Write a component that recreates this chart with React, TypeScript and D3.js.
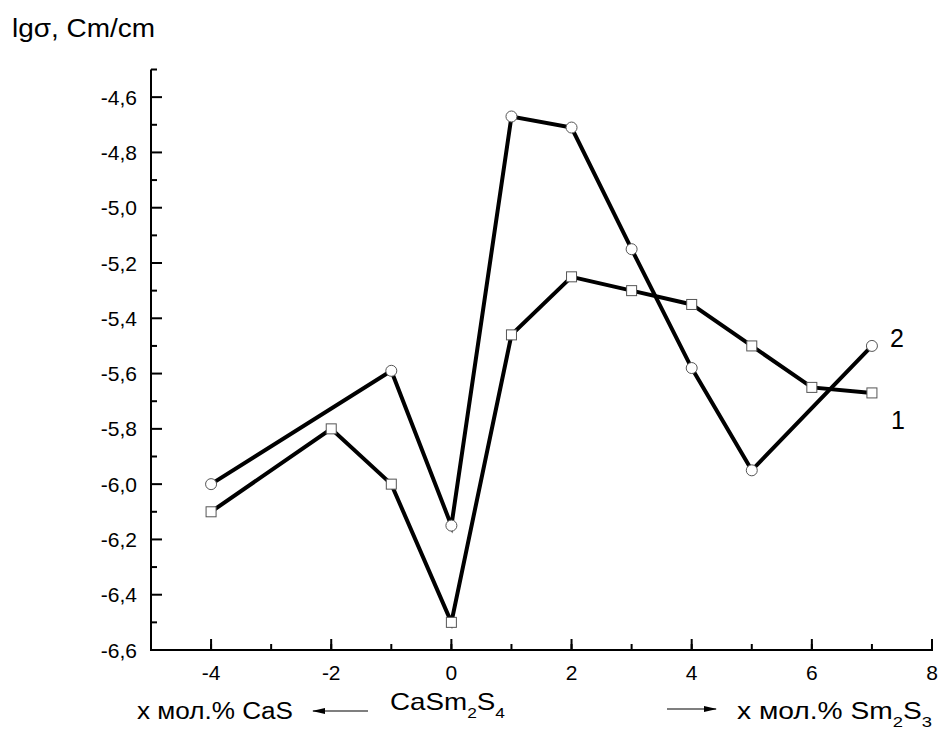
import React from "react";
import * as d3 from "d3";

// curve 2 (circles) and curve 1 (squares)
const circleX = [-4, -1, 0, 1, 2, 3, 4, 5, 7];
const circleY = [-6.0, -5.59, -6.15, -4.67, -4.71, -5.15, -5.58, -5.95, -5.5];
const squareX = [-4, -2, -1, 0, 1, 2, 3, 4, 5, 6, 7];
const squareY = [-6.1, -5.8, -6.0, -6.5, -5.46, -5.25, -5.3, -5.35, -5.5, -5.65, -5.67];

const xTicks = [-4, -2, 0, 2, 4, 6, 8];
const yTicks = [-6.6, -6.4, -6.2, -6.0, -5.8, -5.6, -5.4, -5.2, -5.0, -4.8, -4.6];

const W = 938;
const H = 729;
const FONT = "'Liberation Sans', Arial, sans-serif";

const App = () => {
  const x = d3.scaleLinear().domain([-5, 8]).range([151, 932]);
  const y = d3.scaleLinear().domain([-6.6, -4.5]).range([650, 69.5]);

  const line = d3
    .line<[number, number]>()
    .x((d) => x(d[0]))
    .y((d) => y(d[1]));

  const circles = circleX.map((v, i) => [v, circleY[i]] as [number, number]);
  const squares = squareX.map((v, i) => [v, squareY[i]] as [number, number]);

  // y labels use a comma and one decimal, like the original
  const fmtY = (v: number) => v.toFixed(1).replace(".", ",");

  const xMinor = d3.range(-5, 8.01, 1);
  const yMinor = d3.range(-6.5, -4.49, 0.2);

  return (
    <svg
      width={W}
      height={H}
      style={{ position: "absolute", left: 0, top: 0, background: "#fff" }}
      fontFamily={FONT}
    >
      {/* axes */}
      <line x1={x(-5)} x2={x(-5)} y1={y(-4.5)} y2={y(-6.6) + 1} stroke="#000" strokeWidth={2} />
      <line x1={x(-5)} x2={x(8) + 1} y1={y(-6.6)} y2={y(-6.6)} stroke="#000" strokeWidth={2} />

      {yTicks.map((t) => (
        <g key={"yt" + t}>
          <line x1={x(-5)} x2={x(-5) + 11} y1={y(t)} y2={y(t)} stroke="#000" strokeWidth={2} />
          <text x={137} y={y(t) + 7.5} textAnchor="end" fontSize={21}>
            {fmtY(t)}
          </text>
        </g>
      ))}
      {yMinor.map((t) => (
        <line key={"ym" + t} x1={x(-5)} x2={x(-5) + 6} y1={y(t)} y2={y(t)} stroke="#000" strokeWidth={2} />
      ))}

      {xTicks.map((t) => (
        <g key={"xt" + t}>
          <line x1={x(t)} x2={x(t)} y1={y(-6.6)} y2={y(-6.6) - 11} stroke="#000" strokeWidth={2} />
          <text x={x(t)} y={680} textAnchor="middle" fontSize={21}>
            {String(t)}
          </text>
        </g>
      ))}
      {xMinor.map((t) => (
        <line key={"xm" + t} x1={x(t)} x2={x(t)} y1={y(-6.6)} y2={y(-6.6) - 6} stroke="#000" strokeWidth={2} />
      ))}

      {/* series */}
      <path d={line(circles) ?? ""} fill="none" stroke="#000" strokeWidth={4} />
      <path d={line(squares) ?? ""} fill="none" stroke="#000" strokeWidth={4} />

      {circles.map((d, i) => (
        <circle key={"c" + i} cx={x(d[0])} cy={y(d[1])} r={5.5} fill="#fff" stroke="#555" strokeWidth={1} />
      ))}
      {squares.map((d, i) => (
        <rect key={"s" + i} x={x(d[0]) - 5} y={y(d[1]) - 5} width={10} height={10} fill="#fff" stroke="#555" strokeWidth={1} />
      ))}

      {/* curve labels */}
      <text x={890} y={347} fontSize={25}>2</text>
      <text x={891} y={429} fontSize={25}>1</text>

      {/* y title */}
      <text x={12} y={37} fontSize={25} textLength={143} lengthAdjust="spacingAndGlyphs">
        lgσ, Cm/cm
      </text>

      {/* bottom annotations */}
      <text x={137} y={719} fontSize={23} textLength={156} lengthAdjust="spacingAndGlyphs">
        x мол.% CaS
      </text>
      <line x1={313} x2={368} y1={711} y2={711} stroke="#000" strokeWidth={1.2} />
      <path d="M312,711 L325,708 L325,714 Z" fill="#000" />
      <text x={390} y={710} fontSize={24} textLength={115} lengthAdjust="spacingAndGlyphs">
        CaSm<tspan dy={8} fontSize={15}>2</tspan>
        <tspan dy={-8}>S</tspan>
        <tspan dy={8} fontSize={15}>4</tspan>
      </text>
      <line x1={667} x2={716} y1={709} y2={709} stroke="#000" strokeWidth={1.2} />
      <path d="M717,709 L704,706 L704,712 Z" fill="#000" />
      <text x={737} y={719} fontSize={23} textLength={195} lengthAdjust="spacingAndGlyphs">
        x мол.% Sm<tspan dy={8} fontSize={15}>2</tspan>
        <tspan dy={-8}>S</tspan>
        <tspan dy={8} fontSize={15}>3</tspan>
      </text>
    </svg>
  );
};

export default App;
